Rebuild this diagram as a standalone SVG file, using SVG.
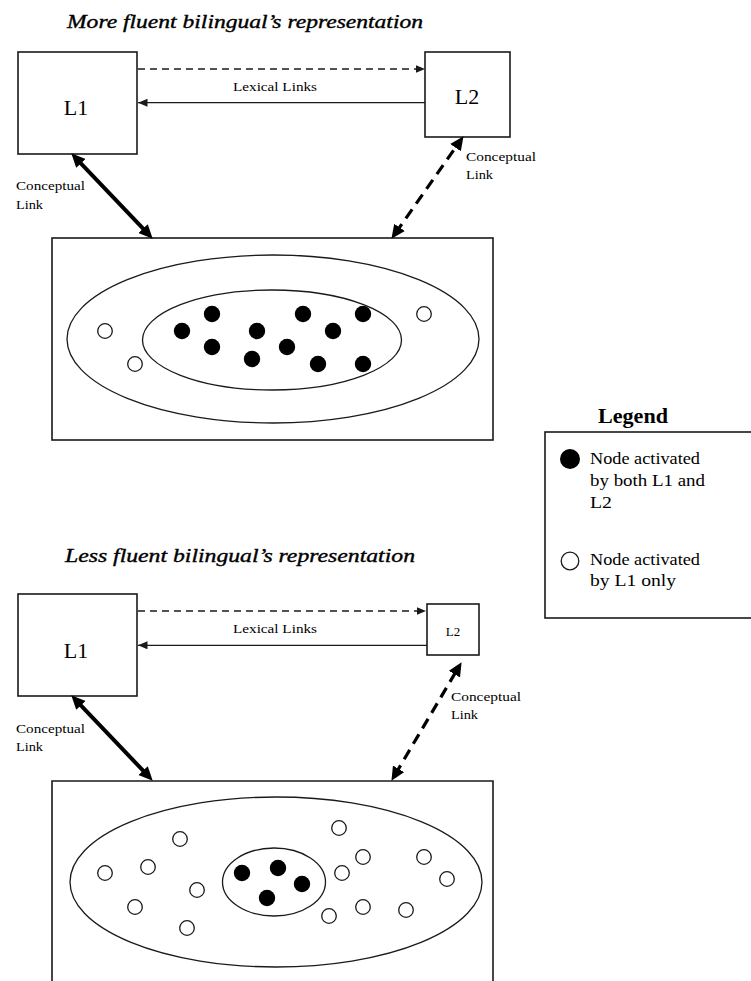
<svg xmlns="http://www.w3.org/2000/svg" width="751" height="981" viewBox="0 0 751 981">
  <style>
    .box { fill: #fff; stroke: #1a1a1a; stroke-width: 1.6; }
    .ell { fill: none; stroke: #1a1a1a; stroke-width: 1.3; }
    .on { fill: #000; }
    .off { fill: #fff; stroke: #1a1a1a; stroke-width: 1.3; }
    .title { font-family: "Liberation Serif", "Times New Roman", serif; font-style: italic; font-size: 18px; fill: #000; stroke: #000; stroke-width: 0.35; }
    .lang { font-family: "Liberation Serif", "Times New Roman", serif; font-size: 22px; fill: #000; text-anchor: middle; }
    .small { font-family: "Liberation Serif", "Times New Roman", serif; font-size: 13px; fill: #000; }
    .leg { font-family: "Liberation Serif", "Times New Roman", serif; font-size: 16px; fill: #000; }
    .lex { fill: none; stroke: #1a1a1a; stroke-width: 1.3; }
    .lexdash { stroke-dasharray: 7 5; }
    .concept { fill: none; stroke: #000; stroke-width: 4; }
    .conceptdash { stroke-width: 3.2; stroke-dasharray: 11 7; }
  </style>
  <defs>
    <marker id="tip" markerUnits="userSpaceOnUse" markerWidth="10" markerHeight="9" refX="9.5" refY="4" orient="auto">
      <path d="M0,0 L9.5,4 L0,8 z" fill="#1a1a1a"/>
    </marker>
    <marker id="bigtip" markerUnits="userSpaceOnUse" markerWidth="15" markerHeight="14" refX="7" refY="6.5" orient="auto-start-reverse">
      <path d="M0,0 L14,6.5 L0,13 z" fill="#000"/>
    </marker>
  </defs>

  <rect width="751" height="981" fill="#fff"/>

  <!-- upper panel: more fluent bilingual -->
  <text class="title" x="67" y="28" textLength="356" lengthAdjust="spacingAndGlyphs">More fluent bilingual’s representation</text>

  <g id="L1-upper">
    <rect class="box" x="18" y="52" width="119" height="102"/>
    <text class="lang" x="76" y="115">L1</text>
  </g>
  <g id="L2-upper">
    <rect class="box" x="425" y="52" width="85" height="85"/>
    <text class="lang" x="467" y="104">L2</text>
  </g>
  <g id="concepts-upper">
    <rect class="box" x="52" y="238" width="441" height="202"/>
    <ellipse class="ell" cx="273" cy="339" rx="206" ry="84"/>
    <ellipse class="ell" cx="272" cy="340" rx="129.5" ry="50"/>
    <circle class="on" cx="212" cy="314" r="8.2"/>
    <circle class="on" cx="182" cy="331" r="8.2"/>
    <circle class="on" cx="212" cy="347" r="8.2"/>
    <circle class="on" cx="257" cy="331" r="8.2"/>
    <circle class="on" cx="252" cy="359" r="8.2"/>
    <circle class="on" cx="287" cy="347" r="8.2"/>
    <circle class="on" cx="303" cy="314" r="8.2"/>
    <circle class="on" cx="333" cy="331" r="8.2"/>
    <circle class="on" cx="318" cy="364" r="8.2"/>
    <circle class="on" cx="363" cy="314" r="8.2"/>
    <circle class="on" cx="363" cy="364" r="8.2"/>
    <circle class="off" cx="105" cy="331" r="7.3"/>
    <circle class="off" cx="135" cy="364" r="7.3"/>
    <circle class="off" cx="424" cy="314" r="7.3"/>
  </g>

  <!-- lower panel: less fluent bilingual -->
  <text class="title" x="65" y="562" textLength="350" lengthAdjust="spacingAndGlyphs">Less fluent bilingual’s representation</text>

  <g id="L1-lower">
    <rect class="box" x="18" y="594" width="119" height="102"/>
    <text class="lang" x="76" y="658">L1</text>
  </g>
  <g id="L2-lower">
    <rect class="box" x="427" y="604" width="52" height="51"/>
    <text class="small" x="453" y="636" text-anchor="middle">L2</text>
  </g>
  <g id="concepts-lower">
    <path class="box" d="M52,995 V781 H493 V995"/>
    <ellipse class="ell" cx="276" cy="882" rx="206" ry="85"/>
    <ellipse class="ell" cx="274" cy="882" rx="51.5" ry="34"/>
    <circle class="on" cx="242" cy="873" r="8.2"/>
    <circle class="on" cx="278" cy="868" r="8.2"/>
    <circle class="on" cx="302" cy="884" r="8.2"/>
    <circle class="on" cx="267" cy="898" r="8.2"/>
    <circle class="off" cx="105" cy="873" r="7.3"/>
    <circle class="off" cx="148" cy="867" r="7.3"/>
    <circle class="off" cx="180" cy="839" r="7.3"/>
    <circle class="off" cx="197" cy="890" r="7.3"/>
    <circle class="off" cx="135" cy="907" r="7.3"/>
    <circle class="off" cx="187" cy="928" r="7.3"/>
    <circle class="off" cx="339" cy="828" r="7.3"/>
    <circle class="off" cx="363" cy="857" r="7.3"/>
    <circle class="off" cx="342" cy="873" r="7.3"/>
    <circle class="off" cx="424" cy="857" r="7.3"/>
    <circle class="off" cx="447" cy="879" r="7.3"/>
    <circle class="off" cx="329" cy="916" r="7.3"/>
    <circle class="off" cx="363" cy="907" r="7.3"/>
    <circle class="off" cx="406" cy="910" r="7.3"/>
  </g>

  <!-- legend -->
  <g id="legend">
    <text x="598" y="423" font-family="Liberation Serif, serif" font-weight="bold" font-size="21" textLength="70" lengthAdjust="spacingAndGlyphs">Legend</text>
    <rect class="box" x="545" y="432" width="220" height="186"/>
    <circle class="on" cx="570" cy="459" r="10"/>
    <text class="leg" x="590" y="464" textLength="110" lengthAdjust="spacingAndGlyphs">Node activated</text>
    <text class="leg" x="590" y="486" textLength="115" lengthAdjust="spacingAndGlyphs">by both L1 and</text>
    <text class="leg" x="590" y="508" textLength="22" lengthAdjust="spacingAndGlyphs">L2</text>
    <circle class="off" cx="570" cy="561" r="8.8" stroke-width="1.6"/>
    <text class="leg" x="590" y="565" textLength="110" lengthAdjust="spacingAndGlyphs">Node activated</text>
    <text class="leg" x="590" y="586" textLength="86" lengthAdjust="spacingAndGlyphs">by L1 only</text>
  </g>

  <!-- links between lexicons and concepts -->
  <g id="connectors">
    <line class="lex lexdash" x1="138" y1="69" x2="425" y2="69" marker-end="url(#tip)"/>
    <line class="lex" x1="425" y1="102.7" x2="138" y2="102.7" marker-end="url(#tip)"/>
    <line class="concept" x1="76.1" y1="158.3" x2="147.9" y2="233.7" marker-start="url(#bigtip)" marker-end="url(#bigtip)"/>
    <line class="concept conceptdash" x1="395.5" y1="233.1" x2="459.5" y2="141.9" marker-start="url(#bigtip)" marker-end="url(#bigtip)"/>

    <line class="lex lexdash" x1="138" y1="611" x2="426" y2="611" marker-end="url(#tip)"/>
    <line class="lex" x1="427" y1="645.3" x2="138" y2="645.3" marker-end="url(#tip)"/>
    <line class="concept" x1="76.1" y1="700.3" x2="147.9" y2="775.7" marker-start="url(#bigtip)" marker-end="url(#bigtip)"/>
    <line class="concept conceptdash" x1="395" y1="774.8" x2="458" y2="668.2" marker-start="url(#bigtip)" marker-end="url(#bigtip)"/>
  </g>

  <g id="link-labels">
    <text class="small" x="233" y="90.7" textLength="84" lengthAdjust="spacingAndGlyphs">Lexical Links</text>
    <text class="small" x="16" y="190" textLength="69" lengthAdjust="spacingAndGlyphs">Conceptual</text>
    <text class="small" x="16" y="208.5" textLength="27" lengthAdjust="spacingAndGlyphs">Link</text>
    <text class="small" x="466" y="161" textLength="70" lengthAdjust="spacingAndGlyphs">Conceptual</text>
    <text class="small" x="466" y="179" textLength="27" lengthAdjust="spacingAndGlyphs">Link</text>

    <text class="small" x="233" y="632.7" textLength="84" lengthAdjust="spacingAndGlyphs">Lexical Links</text>
    <text class="small" x="16" y="732.7" textLength="69" lengthAdjust="spacingAndGlyphs">Conceptual</text>
    <text class="small" x="16" y="750.7" textLength="27" lengthAdjust="spacingAndGlyphs">Link</text>
    <text class="small" x="451" y="700.7" textLength="70" lengthAdjust="spacingAndGlyphs">Conceptual</text>
    <text class="small" x="451" y="718.5" textLength="27" lengthAdjust="spacingAndGlyphs">Link</text>
  </g>
</svg>
